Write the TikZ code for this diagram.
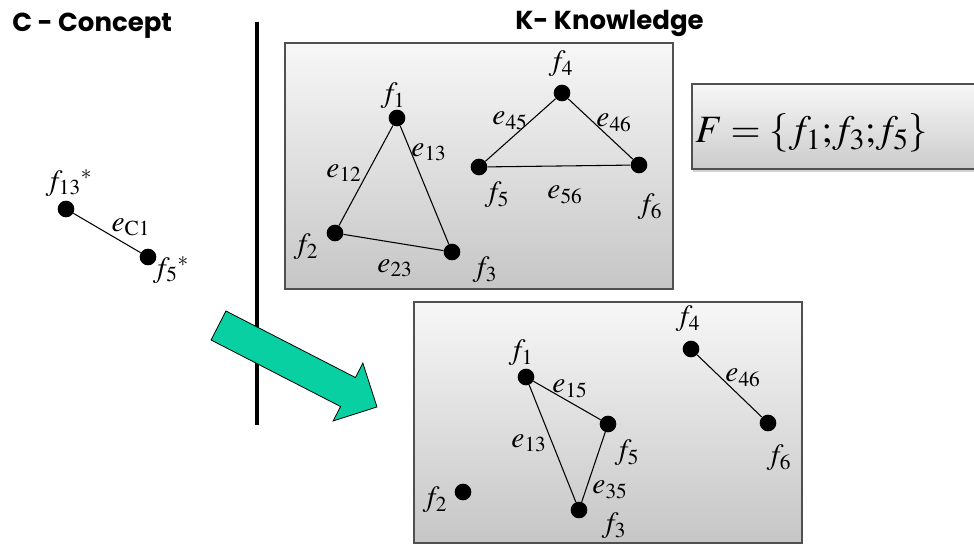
\documentclass[tikz,border=0pt]{standalone}
\usepackage{mathptmx}
\usepackage{fontspec}
\usepackage{tikz}
\usetikzlibrary{positioning, shadows}
\newfontfamily\titlefont{Poppins}
\DeclareMathSizes{22}{22}{16}{12}
\DeclareMathSizes{29}{29}{22}{16}
\definecolor{arrowteal}{RGB}{8, 208, 162}
\definecolor{bordergray}{RGB}{80, 80, 80}
\definecolor{boxtop}{RGB}{247, 247, 247}
\definecolor{boxbottom}{RGB}{198, 198, 198}
\tikzset{
  title/.style={font=\titlefont\bfseries\fontsize{19.5}{22}\selectfont, inner sep=0pt},
  kbox/.style={draw=bordergray, line width=1pt, top color=boxtop,
               bottom color=boxbottom},
  fbox/.style={draw=bordergray, line width=1pt, top color=boxtop,
               bottom color=boxbottom!90,
               drop shadow={opacity=0.35, shadow xshift=1pt, shadow yshift=-2pt}},
  dot/.style={circle, fill=black, inner sep=0pt, minimum size=12.5pt},
  edge/.style={draw=black, line width=0.8pt},
  lbl/.style={font=\fontsize{22}{24}\selectfont, inner sep=0pt},
  fset/.style={font=\fontsize{29}{32}\selectfont, inner sep=0pt},
  divider/.style={line width=3pt, draw=black},
  bigarrow/.style={fill=arrowteal, draw=black, line width=0.6pt, line join=miter},
}

\begin{document}
\begin{tikzpicture}[x=0.75pt, y=-0.75pt]
  \clip (0,0) rectangle (974,545);

  % headings
  \node[title, anchor=base west] (ctitle) at (12,32) {C - Concept};
  \node[title, anchor=base west] (ktitle) at (515,30) {K- Knowledge};

  % C / K separation
  \draw[divider] (257,22) -- (257,425);

  % concept
  \node[dot] (c13) at (66,209) {};
  \node[dot] (c5) at (148,257) {};
  \draw[edge] (c13) -- (c5);
  \node[lbl] (lc13) at (69,183) {$f_{13}{}^{*}$};
  \node[lbl] (lc5) at (171,270) {$f_{5}{}^{*}$};
  \node[lbl] (lec1) at (131,227) {$e_{\mathrm{C}1}$};

  % knowledge, before
  \path[kbox] (285,43) rectangle (673,289);
  \node[dot] (k1) at (397,118) {};
  \node[dot] (k2) at (335,233) {};
  \node[dot] (k3) at (452,252) {};
  \node[dot] (k4) at (562,93) {};
  \node[dot] (k5) at (479,167) {};
  \node[dot] (k6) at (639,165) {};
  \draw[edge] (k1) -- (k2);
  \draw[edge] (k1) -- (k3);
  \draw[edge] (k2) -- (k3);
  \draw[edge] (k4) -- (k5);
  \draw[edge] (k4) -- (k6);
  \draw[edge] (k5) -- (k6);
  \node[lbl] (lk1) at (393,96) {$f_1$};
  \node[lbl] (lk2) at (306,247) {$f_2$};
  \node[lbl] (lk3) at (485,270) {$f_3$};
  \node[lbl] (lk4) at (561,64) {$f_4$};
  \node[lbl] (lk5) at (497,195) {$f_5$};
  \node[lbl] (lk6) at (650,207) {$f_6$};
  \node[lbl] (lk12) at (344,173) {$e_{12}$};
  \node[lbl] (lk13) at (429,152) {$e_{13}$};
  \node[lbl] (lk23) at (395,268) {$e_{23}$};
  \node[lbl] (lk45) at (510,121) {$e_{45}$};
  \node[lbl] (lk46) at (614,123) {$e_{46}$};
  \node[lbl] (lk56) at (565,195) {$e_{56}$};

  % selected set
  \path[fbox] (692,84) rectangle (990,169);
  \node[fset, anchor=base west] (fset) at (695,143) {$F = \{f_1{;}f_3{;}f_5\}$};

  % transformation arrow
  \begin{scope}[shift={(218.5,325.5)}, rotate=-27.2]
    \filldraw[bigarrow] (0,-16.3) -- (145.6,-16.3) -- (145.6,-32.5) -- (178.2,0)
      -- (145.6,32.5) -- (145.6,16.3) -- (0,16.3) -- cycle;
  \end{scope}

  % knowledge, after
  \path[kbox] (414,302) rectangle (802,543);
  \node[dot] (b1) at (526,377) {};
  \node[dot] (b2) at (463,492) {};
  \node[dot] (b3) at (579,510) {};
  \node[dot] (b4) at (691,349) {};
  \node[dot] (b5) at (608,424) {};
  \node[dot] (b6) at (768,423) {};
  \draw[edge] (b1) -- (b5);
  \draw[edge] (b1) -- (b3);
  \draw[edge] (b5) -- (b3);
  \draw[edge] (b4) -- (b6);
  \node[lbl] (lb1) at (521,353) {$f_1$};
  \node[lbl] (lb2) at (435,500) {$f_2$};
  \node[lbl] (lb3) at (614,526) {$f_3$};
  \node[lbl] (lb4) at (688,319) {$f_4$};
  \node[lbl] (lb5) at (627,453) {$f_5$};
  \node[lbl] (lb6) at (779,458) {$f_6$};
  \node[lbl] (lb15) at (570,389) {$e_{15}$};
  \node[lbl] (lb13) at (529,443) {$e_{13}$};
  \node[lbl] (lb35) at (610,490) {$e_{35}$};
  \node[lbl] (lb46) at (743,378) {$e_{46}$};
\end{tikzpicture}
\end{document}
